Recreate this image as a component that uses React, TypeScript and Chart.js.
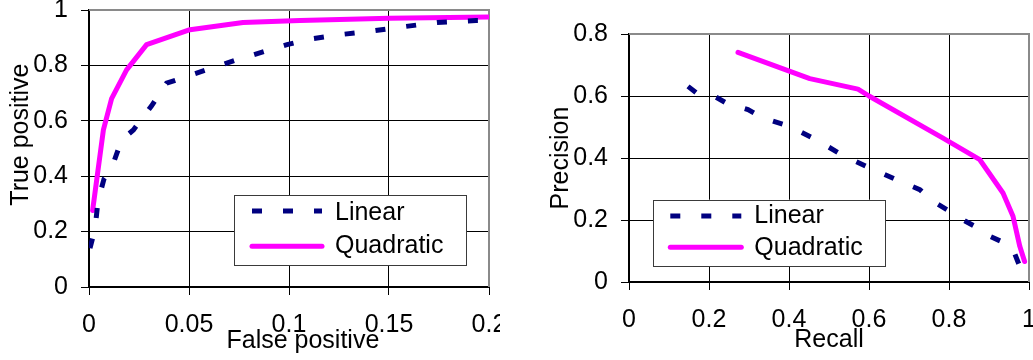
import React, { useEffect, useRef } from 'react';
import { Chart, registerables } from 'chart.js';

Chart.register(...registerables);

// ---------- data ----------
const seriesNames = ['Linear', 'Quadratic'];

const rocLinearFP = [0.0005, 0.003, 0.0045, 0.0075, 0.0113, 0.0163, 0.0222, 0.0313, 0.0388, 0.0438, 0.058, 0.073, 0.0875, 0.099, 0.1105, 0.1255, 0.1405, 0.1555, 0.174, 0.1935, 0.2];
const rocLinearTP = [0.14, 0.21, 0.31, 0.39, 0.429, 0.531, 0.567, 0.654, 0.736, 0.748, 0.782, 0.818, 0.85, 0.875, 0.895, 0.911, 0.923, 0.938, 0.955, 0.962, 0.962];

const rocQuadFP = [0.0018, 0.0072, 0.0113, 0.0188, 0.0288, 0.0505, 0.077, 0.1055, 0.15, 0.2];
const rocQuadTP = [0.276, 0.567, 0.68, 0.784, 0.875, 0.929, 0.955, 0.962, 0.97, 0.975];

const prLinearRecall = [0.1475, 0.1685, 0.214, 0.2435, 0.2975, 0.335, 0.389, 0.41, 0.468, 0.531, 0.602, 0.677, 0.727, 0.76, 0.802, 0.827, 0.8725, 0.893, 0.939, 0.96, 0.977, 0.99, 1.0];
const prLinearPrecision = [0.631, 0.61, 0.599, 0.577, 0.556, 0.529, 0.507, 0.497, 0.459, 0.411, 0.368, 0.325, 0.298, 0.26, 0.228, 0.206, 0.174, 0.153, 0.126, 0.105, 0.05, 0.04, 0.034];

const prQuadRecall = [0.2725, 0.452, 0.5725, 0.6, 0.785, 0.877, 0.935, 0.96, 0.977, 0.989];
const prQuadPrecision = [0.741, 0.656, 0.622, 0.6, 0.464, 0.3945, 0.287, 0.212, 0.115, 0.066];

const rocXTicks = [0, 0.05, 0.1, 0.15, 0.2];
const rocYTicks = [0, 0.2, 0.4, 0.6, 0.8, 1];
const prXTicks = [0, 0.2, 0.4, 0.6, 0.8, 1];
const prYTicks = [0, 0.2, 0.4, 0.6, 0.8];

// ---------- styling ----------
const FONT = '"Liberation Sans", Arial, sans-serif';
const NAVY = '#000080';
const MAGENTA = '#FF00FF';

const framePlugin = {
  id: 'frameAndLegend',
  beforeDatasetsDraw(chart: any) {
    const { ctx, chartArea: a } = chart;
    ctx.save();
    ctx.strokeStyle = '#8a8a8a';
    ctx.lineWidth = 2;
    ctx.beginPath();
    ctx.moveTo(a.left, a.top);
    ctx.lineTo(a.right, a.top);
    ctx.lineTo(a.right, a.bottom);
    ctx.stroke();
    ctx.restore();
  },
  afterDraw(chart: any, _args: any, opts: any) {
    const L = opts.box;
    if (!L) return;
    const { ctx } = chart;
    ctx.save();
    ctx.fillStyle = '#ffffff';
    ctx.fillRect(L.x, L.y, L.w, L.h);
    ctx.strokeStyle = '#3a3a3a';
    ctx.lineWidth = 1;
    ctx.strokeRect(Math.round(L.x) + 0.5, Math.round(L.y) + 0.5, Math.round(L.w), Math.round(L.h));
    chart.data.datasets.forEach((ds: any, i: number) => {
      const ly = L.y + L.lineRows[i];
      ctx.strokeStyle = ds.borderColor;
      ctx.lineWidth = ds.borderWidth;
      ctx.setLineDash(ds.borderDash || []);
      ctx.lineCap = ds.borderCapStyle || 'butt';
      ctx.beginPath();
      ctx.moveTo(L.x + L.lx0, ly);
      ctx.lineTo(L.x + L.lx1, ly);
      ctx.stroke();
      ctx.setLineDash([]);
      ctx.fillStyle = '#000';
      ctx.font = `25px ${FONT}`;
      ctx.textAlign = 'left';
      ctx.textBaseline = 'middle';
      ctx.fillText(ds.label, L.x + L.tx, L.y + L.textRows[i]);
    });
    ctx.restore();
  },
};

function fmt(v: number) {
  return String(Math.round(v * 1000) / 1000);
}

function makeConfig(p: any) {
  const dsLinear = {
    label: seriesNames[0],
    data: p.linX.map((x: number, i: number) => ({ x, y: p.linY[i] })),
    borderColor: NAVY,
    backgroundColor: NAVY,
    borderWidth: 5,
    borderDash: [10, 21],
    borderCapStyle: 'butt',
    showLine: true,
    pointRadius: 0,
    pointHoverRadius: 0,
    tension: 0,
  };
  const dsQuad = {
    label: seriesNames[1],
    data: p.quadX.map((x: number, i: number) => ({ x, y: p.quadY[i] })),
    borderColor: MAGENTA,
    backgroundColor: MAGENTA,
    borderWidth: 5,
    borderCapStyle: 'round',
    borderJoinStyle: 'round',
    showLine: true,
    pointRadius: 0,
    pointHoverRadius: 0,
    tension: 0,
  };
  const grid = { color: '#000', lineWidth: 1, tickLength: 8, tickColor: '#000', drawTicks: true };
  const border = { color: '#000', width: 2 };
  const tickFont = { family: FONT, size: 25 };
  return {
    type: 'scatter',
    data: { datasets: [dsLinear, dsQuad] },
    options: {
      responsive: false,
      maintainAspectRatio: false,
      animation: false,
      events: [],
      layout: { padding: p.padding },
      plugins: {
        legend: { display: false },
        tooltip: { enabled: false },
        frameAndLegend: { box: p.box },
      },
      scales: {
        x: {
          type: 'linear',
          min: p.xTicks[0],
          max: p.xTicks[p.xTicks.length - 1],
          grid,
          border,
          afterBuildTicks: (s: any) => { s.ticks = p.xTicks.map((v: number) => ({ value: v })); },
          afterFit: (s: any) => {
            s.height = p.xHeight;
            s.paddingLeft = 0; s.paddingRight = 0; s.paddingTop = 0; s.paddingBottom = 0;
          },
          ticks: {
            font: tickFont, color: '#000', padding: 15, maxRotation: 0, autoSkip: false,
            callback: (v: number) => fmt(v),
          },
          title: {
            display: true, text: p.xTitle, color: '#000',
            font: { family: FONT, size: 25 },
            padding: { top: 0, bottom: p.xTitlePad },
          },
        },
        y: {
          type: 'linear',
          min: p.yTicks[0],
          max: p.yTicks[p.yTicks.length - 1],
          grid,
          border,
          afterBuildTicks: (s: any) => { s.ticks = p.yTicks.map((v: number) => ({ value: v })); },
          afterFit: (s: any) => {
            s.width = p.yWidth;
            s.paddingLeft = 0; s.paddingRight = 0; s.paddingTop = 0; s.paddingBottom = 0;
          },
          ticks: {
            font: tickFont, color: '#000', padding: 13, autoSkip: false,
            callback: (v: number) => fmt(v),
          },
          title: {
            display: true, text: p.yTitle, color: '#000',
            font: { family: FONT, size: 25 },
            padding: { top: p.yTitlePad, bottom: 0 },
          },
        },
      },
    },
    plugins: [framePlugin],
  };
}

function ChartCanvas({ config, width, height, left }: any) {
  const ref = useRef<HTMLCanvasElement | null>(null);
  useEffect(() => {
    if (!ref.current) return;
    const chart = new Chart(ref.current, config);
    return () => chart.destroy();
  }, []);
  return (
    <canvas
      ref={ref}
      width={width}
      height={height}
      style={{ position: 'absolute', left, top: 0, width, height }}
    />
  );
}

export default function App() {
  const rocConfig = makeConfig({
    linX: rocLinearFP, linY: rocLinearTP, quadX: rocQuadFP, quadY: rocQuadTP,
    xTicks: rocXTicks, yTicks: rocYTicks,
    padding: { left: 0, top: 10, right: 11, bottom: 0 },
    yWidth: 89, xHeight: 73,
    xTitle: '    False positive', yTitle: '    True positive',
    xTitlePad: 4, yTitlePad: 6,
    box: { x: 234, y: 195, w: 232, h: 70, lineRows: [16, 51.3], textRows: [18.3, 50.8], lx0: 18, lx1: 88, tx: 101 },
  });
  const prConfig = makeConfig({
    linX: prLinearRecall, linY: prLinearPrecision, quadX: prQuadRecall, quadY: prQuadPrecision,
    xTicks: prXTicks, yTicks: prYTicks,
    padding: { left: 0, top: 34, right: 4, bottom: 0 },
    yWidth: 129, xHeight: 78,
    xTitle: 'Recall', yTitle: 'Precision',
    xTitlePad: 5, yTitlePad: 46,
    box: { x: 153.3, y: 199.7, w: 231.7, h: 66.3, lineRows: [16.3, 47.6], textRows: [16.6, 48.9], lx0: 17, lx1: 88, tx: 101 },
  });
  return (
    <div style={{ position: 'fixed', left: 0, top: 0, width: 1033, height: 360, background: '#fff', overflow: 'hidden' }}>
      <ChartCanvas config={rocConfig} width={500} height={360} left={0} />
      <ChartCanvas config={prConfig} width={533} height={360} left={500} />
    </div>
  );
}
